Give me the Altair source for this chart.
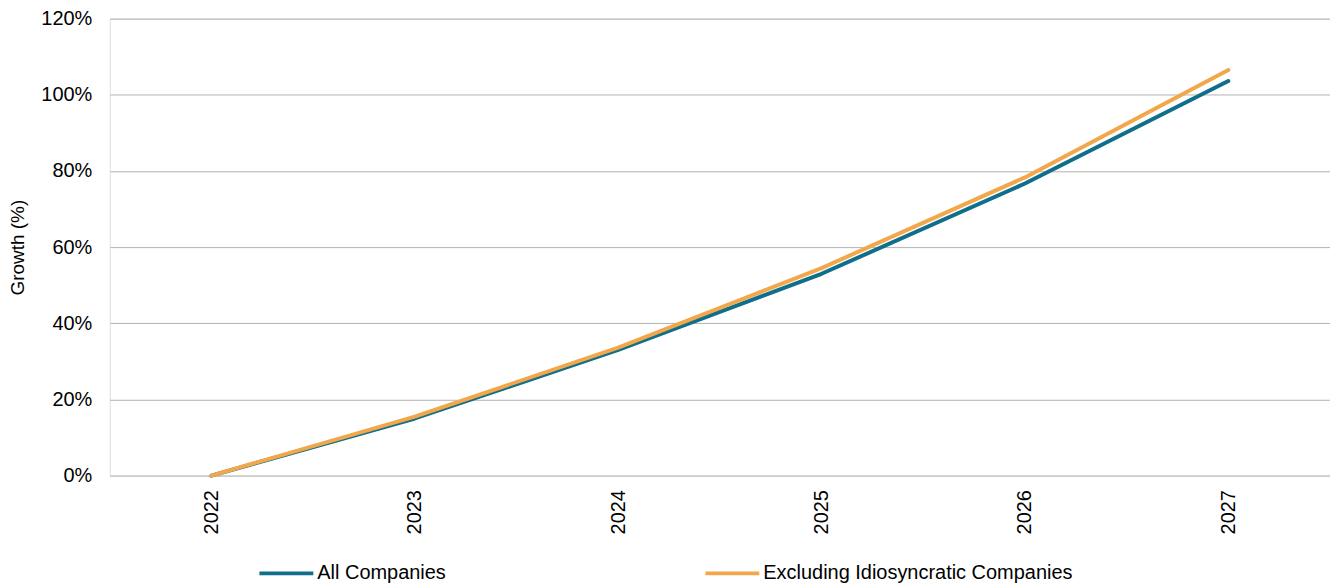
import altair as alt
import pandas as pd

years = ["2022", "2023", "2024", "2025", "2026", "2027"]
all_companies = [0.0, 0.150, 0.330, 0.530, 0.767, 1.036]
excluding = [0.0, 0.155, 0.336, 0.545, 0.783, 1.065]
series_names = ["All Companies", "Excluding Idiosyncratic Companies"]
series_colors = ["#0E6E8B", "#F2A84A"]

rows = []
for name, vals in zip(series_names, [all_companies, excluding]):
    for y, v in zip(years, vals):
        rows.append({"Year": y, "Growth": v, "Series": name})
df = pd.DataFrame(rows)

FONT = "Liberation Sans"

chart = alt.Chart(df).mark_line(strokeWidth=4, strokeCap="round", strokeJoin="round").encode(
    x=alt.X("Year:O", sort=years, title=None,
            scale=alt.Scale(type="point", padding=0.5),
            axis=alt.Axis(labelAngle=270, ticks=False, domain=False, labelPadding=14,
                          labelFontSize=20, labelFont=FONT, labelColor="#000000")),
    y=alt.Y("Growth:Q", title="Growth (%)",
            scale=alt.Scale(domain=[0, 1.2], nice=False),
            axis=alt.Axis(values=[0, 0.2, 0.4, 0.6, 0.8, 1.0, 1.2], format=".0%",
                          ticks=False, domain=False, labelPadding=18,
                          labelFontSize=20, labelFont=FONT, labelColor="#000000",
                          grid=True, gridColor="#b3b3b3", gridWidth=1,
                          titleFontSize=19, titleFont=FONT, titleFontWeight="normal",
                          titleColor="#000000", titleAngle=270, titleX=-92,
                          titleBaseline="middle", titleAlign="center")),
    color=alt.Color("Series:N", sort=series_names,
                    scale=alt.Scale(domain=series_names, range=series_colors),
                    legend=alt.Legend(title=None, orient="none", direction="horizontal",
                                      legendX=148, legendY=527,
                                      symbolType="stroke", symbolSize=2916,
                                      symbolStrokeWidth=4, labelFontSize=20,
                                      labelFont=FONT, labelColor="#000000",
                                      labelLimit=600,
                                      labelOffset=2, columnPadding=252)),
    order=alt.Order("Series:N")
).properties(
    width=1223, height=458,
    autosize=alt.AutoSizeParams(type="none"),
    padding={"left": 102, "top": 10, "right": 0, "bottom": 112}
).configure_view(stroke=None).configure(background="white")

chart.save("out.html", embed_options={"renderer": "svg", "actions": False})
